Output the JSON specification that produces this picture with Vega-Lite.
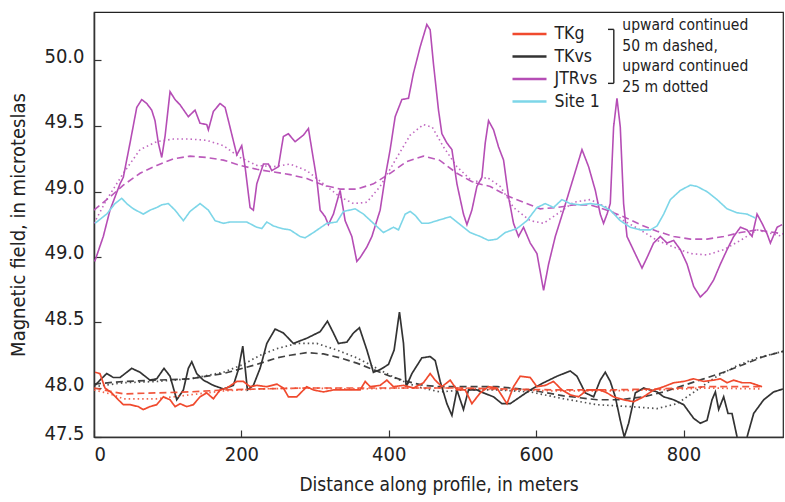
{
  "$schema": "https://vega.github.io/schema/vega-lite/v6.json",
  "width": 689,
  "height": 425,
  "autosize": {"type": "none"},
  "padding": {"left": 94, "top": 12, "right": 2, "bottom": 65},
  "config": {
    "view": {"stroke": "#222", "strokeWidth": 1.2},
    "font": "DejaVu Sans Condensed, Roboto, sans-serif",
    "axis": {
      "labelFont": "DejaVu Sans Condensed, Roboto, sans-serif",
      "titleFont": "DejaVu Sans Condensed, Roboto, sans-serif",
      "labelFontSize": 20,
      "titleFontSize": 19,
      "titleFontWeight": "normal",
      "labelColor": "#222",
      "titleColor": "#222",
      "domainColor": "#333",
      "domainWidth": 1.3,
      "tickColor": "#333",
      "tickWidth": 1.2,
      "tickSize": -7,
      "grid": false
    },
    "legend": {"labelFont": "DejaVu Sans Condensed, Roboto, sans-serif"},
    "text": {"font": "DejaVu Sans Condensed, Roboto, sans-serif"}
  },
  "datasets": {
    "profiles": [
      {"s":"JTRvs","k":"solid","d":1,"v":48.47},{"s":"JTRvs","k":"solid","d":12.6,"v":48.66},{"s":"JTRvs","k":"solid","d":21.7,"v":48.86},{"s":"JTRvs","k":"solid","d":35.3,"v":49.06},{"s":"JTRvs","k":"solid","d":39.8,"v":49.11},{"s":"JTRvs","k":"solid","d":48.9,"v":49.37},{"s":"JTRvs","k":"solid","d":58,"v":49.64},{"s":"JTRvs","k":"solid","d":64.8,"v":49.7},{"s":"JTRvs","k":"solid","d":71.6,"v":49.67},{"s":"JTRvs","k":"solid","d":78.3,"v":49.62},{"s":"JTRvs","k":"solid","d":82.8,"v":49.54},{"s":"JTRvs","k":"solid","d":87.3,"v":49.37},{"s":"JTRvs","k":"solid","d":91.9,"v":49.26},{"s":"JTRvs","k":"solid","d":96.4,"v":49.42},{"s":"JTRvs","k":"solid","d":103.2,"v":49.76},{"s":"JTRvs","k":"solid","d":110,"v":49.7},{"s":"JTRvs","k":"solid","d":116.8,"v":49.66},{"s":"JTRvs","k":"solid","d":128,"v":49.57},{"s":"JTRvs","k":"solid","d":137.1,"v":49.62},{"s":"JTRvs","k":"solid","d":143.9,"v":49.52},{"s":"JTRvs","k":"solid","d":153,"v":49.51},{"s":"JTRvs","k":"solid","d":155.2,"v":49.47},{"s":"JTRvs","k":"solid","d":162,"v":49.61},{"s":"JTRvs","k":"solid","d":171.1,"v":49.67},{"s":"JTRvs","k":"solid","d":177.9,"v":49.64},{"s":"JTRvs","k":"solid","d":182.4,"v":49.54},{"s":"JTRvs","k":"solid","d":193.8,"v":49.28},{"s":"JTRvs","k":"solid","d":200.5,"v":49.35},{"s":"JTRvs","k":"solid","d":205,"v":49.19},{"s":"JTRvs","k":"solid","d":211.8,"v":48.88},{"s":"JTRvs","k":"solid","d":216.3,"v":48.86},{"s":"JTRvs","k":"solid","d":220.9,"v":49.06},{"s":"JTRvs","k":"solid","d":229.9,"v":49.21},{"s":"JTRvs","k":"solid","d":236.7,"v":49.21},{"s":"JTRvs","k":"solid","d":241.3,"v":49.16},{"s":"JTRvs","k":"solid","d":250.2,"v":49.19},{"s":"JTRvs","k":"solid","d":257,"v":49.42},{"s":"JTRvs","k":"solid","d":263.8,"v":49.44},{"s":"JTRvs","k":"solid","d":272.9,"v":49.38},{"s":"JTRvs","k":"solid","d":284.2,"v":49.43},{"s":"JTRvs","k":"solid","d":291,"v":49.48},{"s":"JTRvs","k":"solid","d":295.6,"v":49.32},{"s":"JTRvs","k":"solid","d":302.4,"v":49.09},{"s":"JTRvs","k":"solid","d":306.9,"v":48.86},{"s":"JTRvs","k":"solid","d":313.7,"v":48.81},{"s":"JTRvs","k":"solid","d":318.1,"v":48.75},{"s":"JTRvs","k":"solid","d":324.9,"v":48.83},{"s":"JTRvs","k":"solid","d":334,"v":49.01},{"s":"JTRvs","k":"solid","d":340.8,"v":48.78},{"s":"JTRvs","k":"solid","d":349.9,"v":48.66},{"s":"JTRvs","k":"solid","d":356.7,"v":48.47},{"s":"JTRvs","k":"solid","d":361.2,"v":48.5},{"s":"JTRvs","k":"solid","d":370.3,"v":48.58},{"s":"JTRvs","k":"solid","d":377.1,"v":48.66},{"s":"JTRvs","k":"solid","d":388.3,"v":48.86},{"s":"JTRvs","k":"solid","d":395.1,"v":49.11},{"s":"JTRvs","k":"solid","d":401.9,"v":49.32},{"s":"JTRvs","k":"solid","d":408.7,"v":49.57},{"s":"JTRvs","k":"solid","d":417.8,"v":49.7},{"s":"JTRvs","k":"solid","d":426.8,"v":49.71},{"s":"JTRvs","k":"solid","d":433.5,"v":49.9},{"s":"JTRvs","k":"solid","d":442.6,"v":50.1},{"s":"JTRvs","k":"solid","d":451.7,"v":50.27},{"s":"JTRvs","k":"solid","d":456.2,"v":50.23},{"s":"JTRvs","k":"solid","d":460.7,"v":49.97},{"s":"JTRvs","k":"solid","d":467.5,"v":49.62},{"s":"JTRvs","k":"solid","d":472.1,"v":49.44},{"s":"JTRvs","k":"solid","d":478.9,"v":49.37},{"s":"JTRvs","k":"solid","d":485.7,"v":49.32},{"s":"JTRvs","k":"solid","d":492.5,"v":49.06},{"s":"JTRvs","k":"solid","d":501.4,"v":48.83},{"s":"JTRvs","k":"solid","d":506.1,"v":48.75},{"s":"JTRvs","k":"solid","d":512.8,"v":48.86},{"s":"JTRvs","k":"solid","d":519.6,"v":49.04},{"s":"JTRvs","k":"solid","d":526.4,"v":49.11},{"s":"JTRvs","k":"solid","d":530.9,"v":49.37},{"s":"JTRvs","k":"solid","d":535.4,"v":49.54},{"s":"JTRvs","k":"solid","d":542.2,"v":49.47},{"s":"JTRvs","k":"solid","d":549,"v":49.34},{"s":"JTRvs","k":"solid","d":555.8,"v":49.24},{"s":"JTRvs","k":"solid","d":562.6,"v":48.96},{"s":"JTRvs","k":"solid","d":569.3,"v":48.76},{"s":"JTRvs","k":"solid","d":576.1,"v":48.66},{"s":"JTRvs","k":"solid","d":582.9,"v":48.73},{"s":"JTRvs","k":"solid","d":592,"v":48.61},{"s":"JTRvs","k":"solid","d":601.1,"v":48.53},{"s":"JTRvs","k":"solid","d":610.1,"v":48.25},{"s":"JTRvs","k":"solid","d":616.9,"v":48.45},{"s":"JTRvs","k":"solid","d":626,"v":48.66},{"s":"JTRvs","k":"solid","d":637.2,"v":48.86},{"s":"JTRvs","k":"solid","d":650.8,"v":49.11},{"s":"JTRvs","k":"solid","d":662.2,"v":49.32},{"s":"JTRvs","k":"solid","d":671.2,"v":49.19},{"s":"JTRvs","k":"solid","d":680.3,"v":49.01},{"s":"JTRvs","k":"solid","d":687,"v":48.83},{"s":"JTRvs","k":"solid","d":691.5,"v":48.76},{"s":"JTRvs","k":"solid","d":696.2,"v":48.83},{"s":"JTRvs","k":"solid","d":700.6,"v":48.91},{"s":"JTRvs","k":"solid","d":705.1,"v":49.49},{"s":"JTRvs","k":"solid","d":709.7,"v":49.71},{"s":"JTRvs","k":"solid","d":714.2,"v":49.49},{"s":"JTRvs","k":"solid","d":718.7,"v":48.91},{"s":"JTRvs","k":"solid","d":723.3,"v":48.66},{"s":"JTRvs","k":"solid","d":730.1,"v":48.58},{"s":"JTRvs","k":"solid","d":736.9,"v":48.5},{"s":"JTRvs","k":"solid","d":743.7,"v":48.42},{"s":"JTRvs","k":"solid","d":750.5,"v":48.5},{"s":"JTRvs","k":"solid","d":759.4,"v":48.61},{"s":"JTRvs","k":"solid","d":768.5,"v":48.66},{"s":"JTRvs","k":"solid","d":777.6,"v":48.61},{"s":"JTRvs","k":"solid","d":786.6,"v":48.63},{"s":"JTRvs","k":"solid","d":795.7,"v":48.56},{"s":"JTRvs","k":"solid","d":804.8,"v":48.45},{"s":"JTRvs","k":"solid","d":813.8,"v":48.28},{"s":"JTRvs","k":"solid","d":822.8,"v":48.2},{"s":"JTRvs","k":"solid","d":831.9,"v":48.25},{"s":"JTRvs","k":"solid","d":840.9,"v":48.33},{"s":"JTRvs","k":"solid","d":850,"v":48.45},{"s":"JTRvs","k":"solid","d":859.1,"v":48.56},{"s":"JTRvs","k":"solid","d":868.1,"v":48.66},{"s":"JTRvs","k":"solid","d":877.2,"v":48.73},{"s":"JTRvs","k":"solid","d":886.2,"v":48.71},{"s":"JTRvs","k":"solid","d":893,"v":48.66},{"s":"JTRvs","k":"solid","d":899.8,"v":48.83},{"s":"JTRvs","k":"solid","d":906.6,"v":48.76},{"s":"JTRvs","k":"solid","d":913.4,"v":48.68},{"s":"JTRvs","k":"solid","d":917.9,"v":48.61},{"s":"JTRvs","k":"solid","d":927,"v":48.73},{"s":"JTRvs","k":"solid","d":933.7,"v":48.75},

      {"s":"JTRvs","k":"dashed","d":0,"v":48.86},{"s":"JTRvs","k":"dashed","d":21.7,"v":48.96},{"s":"JTRvs","k":"dashed","d":39.8,"v":49.05},{"s":"JTRvs","k":"dashed","d":62.5,"v":49.14},{"s":"JTRvs","k":"dashed","d":85.1,"v":49.2},{"s":"JTRvs","k":"dashed","d":107.7,"v":49.25},{"s":"JTRvs","k":"dashed","d":130.3,"v":49.27},{"s":"JTRvs","k":"dashed","d":153,"v":49.26},{"s":"JTRvs","k":"dashed","d":175.6,"v":49.24},{"s":"JTRvs","k":"dashed","d":198.2,"v":49.2},{"s":"JTRvs","k":"dashed","d":220.9,"v":49.17},{"s":"JTRvs","k":"dashed","d":243.5,"v":49.15},{"s":"JTRvs","k":"dashed","d":266.1,"v":49.13},{"s":"JTRvs","k":"dashed","d":288.8,"v":49.1},{"s":"JTRvs","k":"dashed","d":311.4,"v":49.05},{"s":"JTRvs","k":"dashed","d":334,"v":49.02},{"s":"JTRvs","k":"dashed","d":356.7,"v":49.02},{"s":"JTRvs","k":"dashed","d":379.2,"v":49.06},{"s":"JTRvs","k":"dashed","d":401.9,"v":49.14},{"s":"JTRvs","k":"dashed","d":424.6,"v":49.23},{"s":"JTRvs","k":"dashed","d":447.1,"v":49.27},{"s":"JTRvs","k":"dashed","d":468.9,"v":49.24},{"s":"JTRvs","k":"dashed","d":492.5,"v":49.14},{"s":"JTRvs","k":"dashed","d":515,"v":49.07},{"s":"JTRvs","k":"dashed","d":537.7,"v":49.04},{"s":"JTRvs","k":"dashed","d":560.4,"v":48.97},{"s":"JTRvs","k":"dashed","d":582.9,"v":48.92},{"s":"JTRvs","k":"dashed","d":605.6,"v":48.87},{"s":"JTRvs","k":"dashed","d":628.3,"v":48.88},{"s":"JTRvs","k":"dashed","d":650.8,"v":48.9},{"s":"JTRvs","k":"dashed","d":673.5,"v":48.9},{"s":"JTRvs","k":"dashed","d":696.2,"v":48.86},{"s":"JTRvs","k":"dashed","d":718.7,"v":48.81},{"s":"JTRvs","k":"dashed","d":741.4,"v":48.75},{"s":"JTRvs","k":"dashed","d":764.1,"v":48.7},{"s":"JTRvs","k":"dashed","d":786.6,"v":48.66},{"s":"JTRvs","k":"dashed","d":809.3,"v":48.64},{"s":"JTRvs","k":"dashed","d":831.9,"v":48.64},{"s":"JTRvs","k":"dashed","d":854.5,"v":48.66},{"s":"JTRvs","k":"dashed","d":877.2,"v":48.69},{"s":"JTRvs","k":"dashed","d":899.8,"v":48.71},{"s":"JTRvs","k":"dashed","d":935,"v":48.68},

      {"s":"JTRvs","k":"dotted","d":0,"v":48.76},{"s":"JTRvs","k":"dotted","d":17.2,"v":48.94},{"s":"JTRvs","k":"dotted","d":39.8,"v":49.14},{"s":"JTRvs","k":"dotted","d":62.5,"v":49.32},{"s":"JTRvs","k":"dotted","d":85.1,"v":49.38},{"s":"JTRvs","k":"dotted","d":107.7,"v":49.4},{"s":"JTRvs","k":"dotted","d":130.3,"v":49.4},{"s":"JTRvs","k":"dotted","d":153,"v":49.39},{"s":"JTRvs","k":"dotted","d":175.6,"v":49.35},{"s":"JTRvs","k":"dotted","d":198.2,"v":49.26},{"s":"JTRvs","k":"dotted","d":220.9,"v":49.2},{"s":"JTRvs","k":"dotted","d":243.5,"v":49.19},{"s":"JTRvs","k":"dotted","d":266.1,"v":49.21},{"s":"JTRvs","k":"dotted","d":288.8,"v":49.16},{"s":"JTRvs","k":"dotted","d":311.4,"v":49.06},{"s":"JTRvs","k":"dotted","d":334,"v":48.96},{"s":"JTRvs","k":"dotted","d":352.1,"v":48.91},{"s":"JTRvs","k":"dotted","d":370.3,"v":48.92},{"s":"JTRvs","k":"dotted","d":388.3,"v":49.04},{"s":"JTRvs","k":"dotted","d":411,"v":49.26},{"s":"JTRvs","k":"dotted","d":429.1,"v":49.43},{"s":"JTRvs","k":"dotted","d":447.1,"v":49.51},{"s":"JTRvs","k":"dotted","d":459,"v":49.49},{"s":"JTRvs","k":"dotted","d":474.3,"v":49.34},{"s":"JTRvs","k":"dotted","d":492.5,"v":49.19},{"s":"JTRvs","k":"dotted","d":515,"v":49.07},{"s":"JTRvs","k":"dotted","d":533.2,"v":49.11},{"s":"JTRvs","k":"dotted","d":551.3,"v":49.04},{"s":"JTRvs","k":"dotted","d":569.3,"v":48.88},{"s":"JTRvs","k":"dotted","d":592,"v":48.78},{"s":"JTRvs","k":"dotted","d":610.1,"v":48.76},{"s":"JTRvs","k":"dotted","d":628.3,"v":48.83},{"s":"JTRvs","k":"dotted","d":650.8,"v":48.92},{"s":"JTRvs","k":"dotted","d":673.5,"v":48.94},{"s":"JTRvs","k":"dotted","d":696.2,"v":48.88},{"s":"JTRvs","k":"dotted","d":718.7,"v":48.78},{"s":"JTRvs","k":"dotted","d":741.4,"v":48.71},{"s":"JTRvs","k":"dotted","d":764.1,"v":48.63},{"s":"JTRvs","k":"dotted","d":786.6,"v":48.58},{"s":"JTRvs","k":"dotted","d":809.3,"v":48.53},{"s":"JTRvs","k":"dotted","d":831.9,"v":48.52},{"s":"JTRvs","k":"dotted","d":854.5,"v":48.56},{"s":"JTRvs","k":"dotted","d":877.2,"v":48.63},{"s":"JTRvs","k":"dotted","d":899.8,"v":48.71},{"s":"JTRvs","k":"dotted","d":935,"v":48.66},

      {"s":"Site 1","k":"solid","d":1.4,"v":48.76},{"s":"Site 1","k":"solid","d":17.2,"v":48.83},{"s":"Site 1","k":"solid","d":28.5,"v":48.91},{"s":"Site 1","k":"solid","d":37.6,"v":48.95},{"s":"Site 1","k":"solid","d":44.4,"v":48.91},{"s":"Site 1","k":"solid","d":53.4,"v":48.87},{"s":"Site 1","k":"solid","d":66.9,"v":48.83},{"s":"Site 1","k":"solid","d":76,"v":48.86},{"s":"Site 1","k":"solid","d":85.1,"v":48.88},{"s":"Site 1","k":"solid","d":91.9,"v":48.9},{"s":"Site 1","k":"solid","d":100.9,"v":48.91},{"s":"Site 1","k":"solid","d":110,"v":48.86},{"s":"Site 1","k":"solid","d":121.3,"v":48.78},{"s":"Site 1","k":"solid","d":130.3,"v":48.85},{"s":"Site 1","k":"solid","d":143.9,"v":48.91},{"s":"Site 1","k":"solid","d":155.2,"v":48.86},{"s":"Site 1","k":"solid","d":164.3,"v":48.78},{"s":"Site 1","k":"solid","d":175.6,"v":48.76},{"s":"Site 1","k":"solid","d":184.7,"v":48.77},{"s":"Site 1","k":"solid","d":198.2,"v":48.77},{"s":"Site 1","k":"solid","d":207.3,"v":48.77},{"s":"Site 1","k":"solid","d":220.9,"v":48.73},{"s":"Site 1","k":"solid","d":227.7,"v":48.72},{"s":"Site 1","k":"solid","d":234.5,"v":48.77},{"s":"Site 1","k":"solid","d":243.5,"v":48.74},{"s":"Site 1","k":"solid","d":254.9,"v":48.72},{"s":"Site 1","k":"solid","d":266.1,"v":48.71},{"s":"Site 1","k":"solid","d":279.7,"v":48.66},{"s":"Site 1","k":"solid","d":286.5,"v":48.65},{"s":"Site 1","k":"solid","d":297.8,"v":48.69},{"s":"Site 1","k":"solid","d":316,"v":48.76},{"s":"Site 1","k":"solid","d":329.5,"v":48.77},{"s":"Site 1","k":"solid","d":338.5,"v":48.85},{"s":"Site 1","k":"solid","d":354.4,"v":48.87},{"s":"Site 1","k":"solid","d":365.7,"v":48.83},{"s":"Site 1","k":"solid","d":379.2,"v":48.76},{"s":"Site 1","k":"solid","d":392.8,"v":48.69},{"s":"Site 1","k":"solid","d":399.6,"v":48.71},{"s":"Site 1","k":"solid","d":406.4,"v":48.73},{"s":"Site 1","k":"solid","d":413.2,"v":48.71},{"s":"Site 1","k":"solid","d":422.3,"v":48.83},{"s":"Site 1","k":"solid","d":429.1,"v":48.85},{"s":"Site 1","k":"solid","d":435.9,"v":48.82},{"s":"Site 1","k":"solid","d":444.9,"v":48.76},{"s":"Site 1","k":"solid","d":453.9,"v":48.76},{"s":"Site 1","k":"solid","d":465.3,"v":48.78},{"s":"Site 1","k":"solid","d":483.4,"v":48.81},{"s":"Site 1","k":"solid","d":497,"v":48.75},{"s":"Site 1","k":"solid","d":510.5,"v":48.69},{"s":"Site 1","k":"solid","d":524.1,"v":48.66},{"s":"Site 1","k":"solid","d":535.4,"v":48.63},{"s":"Site 1","k":"solid","d":546.8,"v":48.64},{"s":"Site 1","k":"solid","d":558.1,"v":48.69},{"s":"Site 1","k":"solid","d":573.9,"v":48.72},{"s":"Site 1","k":"solid","d":587.5,"v":48.78},{"s":"Site 1","k":"solid","d":601.1,"v":48.88},{"s":"Site 1","k":"solid","d":612.4,"v":48.91},{"s":"Site 1","k":"solid","d":623.6,"v":48.88},{"s":"Site 1","k":"solid","d":635,"v":48.94},{"s":"Site 1","k":"solid","d":646.3,"v":48.91},{"s":"Site 1","k":"solid","d":659.9,"v":48.9},{"s":"Site 1","k":"solid","d":673.5,"v":48.91},{"s":"Site 1","k":"solid","d":687,"v":48.9},{"s":"Site 1","k":"solid","d":700.6,"v":48.86},{"s":"Site 1","k":"solid","d":714.2,"v":48.78},{"s":"Site 1","k":"solid","d":727.8,"v":48.73},{"s":"Site 1","k":"solid","d":741.4,"v":48.71},{"s":"Site 1","k":"solid","d":755,"v":48.71},{"s":"Site 1","k":"solid","d":764.1,"v":48.74},{"s":"Site 1","k":"solid","d":773.1,"v":48.83},{"s":"Site 1","k":"solid","d":782.1,"v":48.94},{"s":"Site 1","k":"solid","d":795.7,"v":49.01},{"s":"Site 1","k":"solid","d":809.3,"v":49.05},{"s":"Site 1","k":"solid","d":818.4,"v":49.04},{"s":"Site 1","k":"solid","d":832,"v":49.0},{"s":"Site 1","k":"solid","d":845.5,"v":48.94},{"s":"Site 1","k":"solid","d":859.1,"v":48.87},{"s":"Site 1","k":"solid","d":872.7,"v":48.84},{"s":"Site 1","k":"solid","d":886.2,"v":48.83},{"s":"Site 1","k":"solid","d":897.5,"v":48.8},

      {"s":"TKvs","k":"solid","d":1.4,"v":48.02},{"s":"TKvs","k":"solid","d":8.1,"v":48.06},{"s":"TKvs","k":"solid","d":17.2,"v":48.11},{"s":"TKvs","k":"solid","d":26.2,"v":48.08},{"s":"TKvs","k":"solid","d":35.3,"v":48.08},{"s":"TKvs","k":"solid","d":51.2,"v":48.15},{"s":"TKvs","k":"solid","d":62.5,"v":48.12},{"s":"TKvs","k":"solid","d":76,"v":48.06},{"s":"TKvs","k":"solid","d":85.1,"v":48.07},{"s":"TKvs","k":"solid","d":95,"v":48.15},{"s":"TKvs","k":"solid","d":103.2,"v":48.09},{"s":"TKvs","k":"solid","d":112.3,"v":47.88},{"s":"TKvs","k":"solid","d":121.3,"v":47.98},{"s":"TKvs","k":"solid","d":128,"v":48.15},{"s":"TKvs","k":"solid","d":132.7,"v":48.2},{"s":"TKvs","k":"solid","d":139.4,"v":48.11},{"s":"TKvs","k":"solid","d":148.4,"v":48.06},{"s":"TKvs","k":"solid","d":162,"v":48.02},{"s":"TKvs","k":"solid","d":175.6,"v":47.99},{"s":"TKvs","k":"solid","d":189.1,"v":48.02},{"s":"TKvs","k":"solid","d":195.9,"v":48.14},{"s":"TKvs","k":"solid","d":201.9,"v":48.32},{"s":"TKvs","k":"solid","d":205,"v":48.16},{"s":"TKvs","k":"solid","d":208.2,"v":47.98},{"s":"TKvs","k":"solid","d":216.3,"v":48.02},{"s":"TKvs","k":"solid","d":225.4,"v":48.15},{"s":"TKvs","k":"solid","d":234.5,"v":48.34},{"s":"TKvs","k":"solid","d":245.8,"v":48.45},{"s":"TKvs","k":"solid","d":257,"v":48.42},{"s":"TKvs","k":"solid","d":270.6,"v":48.34},{"s":"TKvs","k":"solid","d":288.8,"v":48.38},{"s":"TKvs","k":"solid","d":306.9,"v":48.43},{"s":"TKvs","k":"solid","d":316.8,"v":48.51},{"s":"TKvs","k":"solid","d":324.9,"v":48.42},{"s":"TKvs","k":"solid","d":331.7,"v":48.34},{"s":"TKvs","k":"solid","d":343.1,"v":48.35},{"s":"TKvs","k":"solid","d":352.1,"v":48.42},{"s":"TKvs","k":"solid","d":360.2,"v":48.46},{"s":"TKvs","k":"solid","d":370.3,"v":48.29},{"s":"TKvs","k":"solid","d":379.2,"v":48.12},{"s":"TKvs","k":"solid","d":388.3,"v":48.14},{"s":"TKvs","k":"solid","d":399.6,"v":48.18},{"s":"TKvs","k":"solid","d":407.3,"v":48.29},{"s":"TKvs","k":"solid","d":414.5,"v":48.58},{"s":"TKvs","k":"solid","d":420,"v":48.34},{"s":"TKvs","k":"solid","d":423.6,"v":48.01},{"s":"TKvs","k":"solid","d":431.4,"v":48.11},{"s":"TKvs","k":"solid","d":444.9,"v":48.23},{"s":"TKvs","k":"solid","d":456.2,"v":48.24},{"s":"TKvs","k":"solid","d":463,"v":48.21},{"s":"TKvs","k":"solid","d":469.8,"v":48.05},{"s":"TKvs","k":"solid","d":478.9,"v":47.84},{"s":"TKvs","k":"solid","d":485.7,"v":47.72},{"s":"TKvs","k":"solid","d":492.5,"v":47.98},{"s":"TKvs","k":"solid","d":501.4,"v":47.78},{"s":"TKvs","k":"solid","d":508.2,"v":47.98},{"s":"TKvs","k":"solid","d":519.6,"v":47.98},{"s":"TKvs","k":"solid","d":528.6,"v":47.95},{"s":"TKvs","k":"solid","d":542.2,"v":47.91},{"s":"TKvs","k":"solid","d":553.6,"v":47.84},{"s":"TKvs","k":"solid","d":564.8,"v":47.84},{"s":"TKvs","k":"solid","d":578.4,"v":47.91},{"s":"TKvs","k":"solid","d":592,"v":47.98},{"s":"TKvs","k":"solid","d":610.1,"v":48.04},{"s":"TKvs","k":"solid","d":628.3,"v":48.09},{"s":"TKvs","k":"solid","d":646.3,"v":48.13},{"s":"TKvs","k":"solid","d":655.4,"v":48.09},{"s":"TKvs","k":"solid","d":666.7,"v":47.95},{"s":"TKvs","k":"solid","d":678,"v":47.91},{"s":"TKvs","k":"solid","d":687,"v":48.06},{"s":"TKvs","k":"solid","d":693.8,"v":48.12},{"s":"TKvs","k":"solid","d":700.6,"v":48.05},{"s":"TKvs","k":"solid","d":707.4,"v":47.91},{"s":"TKvs","k":"solid","d":714.2,"v":47.67},{"s":"TKvs","k":"solid","d":719.6,"v":47.5},{"s":"TKvs","k":"solid","d":725.5,"v":47.64},{"s":"TKvs","k":"solid","d":734.6,"v":47.95},{"s":"TKvs","k":"solid","d":745.8,"v":48.0},{"s":"TKvs","k":"solid","d":755,"v":47.98},{"s":"TKvs","k":"solid","d":764.1,"v":47.96},{"s":"TKvs","k":"solid","d":773.1,"v":47.91},{"s":"TKvs","k":"solid","d":786.6,"v":47.88},{"s":"TKvs","k":"solid","d":800.2,"v":47.83},{"s":"TKvs","k":"solid","d":813.8,"v":47.69},{"s":"TKvs","k":"solid","d":822.8,"v":47.64},{"s":"TKvs","k":"solid","d":831.9,"v":47.67},{"s":"TKvs","k":"solid","d":838.7,"v":47.88},{"s":"TKvs","k":"solid","d":843.2,"v":47.96},{"s":"TKvs","k":"solid","d":847.7,"v":47.78},{"s":"TKvs","k":"solid","d":854.5,"v":47.91},{"s":"TKvs","k":"solid","d":860.4,"v":47.74},{"s":"TKvs","k":"solid","d":865.8,"v":47.74},{"s":"TKvs","k":"solid","d":872.7,"v":47.5},{"s":"TKvs","k":"solid","d":879.5,"v":47.39},{"s":"TKvs","k":"solid","d":886.2,"v":47.5},{"s":"TKvs","k":"solid","d":895.2,"v":47.74},{"s":"TKvs","k":"solid","d":908.8,"v":47.88},{"s":"TKvs","k":"solid","d":922.3,"v":47.96},{"s":"TKvs","k":"solid","d":935,"v":47.99},

      {"s":"TKvs","k":"dashed","d":0,"v":48.03},{"s":"TKvs","k":"dashed","d":39.8,"v":48.05},{"s":"TKvs","k":"dashed","d":85.1,"v":48.06},{"s":"TKvs","k":"dashed","d":130.3,"v":48.07},{"s":"TKvs","k":"dashed","d":175.6,"v":48.11},{"s":"TKvs","k":"dashed","d":220.9,"v":48.18},{"s":"TKvs","k":"dashed","d":248.1,"v":48.23},{"s":"TKvs","k":"dashed","d":266.1,"v":48.25},{"s":"TKvs","k":"dashed","d":288.8,"v":48.27},{"s":"TKvs","k":"dashed","d":311.4,"v":48.26},{"s":"TKvs","k":"dashed","d":334,"v":48.23},{"s":"TKvs","k":"dashed","d":356.7,"v":48.19},{"s":"TKvs","k":"dashed","d":379.2,"v":48.14},{"s":"TKvs","k":"dashed","d":401.9,"v":48.09},{"s":"TKvs","k":"dashed","d":424.6,"v":48.05},{"s":"TKvs","k":"dashed","d":447.1,"v":48.02},{"s":"TKvs","k":"dashed","d":468.9,"v":48.01},{"s":"TKvs","k":"dashed","d":501.4,"v":48.01},{"s":"TKvs","k":"dashed","d":546.8,"v":48.01},{"s":"TKvs","k":"dashed","d":592,"v":47.98},{"s":"TKvs","k":"dashed","d":637.2,"v":47.92},{"s":"TKvs","k":"dashed","d":682.6,"v":47.88},{"s":"TKvs","k":"dashed","d":714.2,"v":47.88},{"s":"TKvs","k":"dashed","d":745.8,"v":47.91},{"s":"TKvs","k":"dashed","d":773.1,"v":47.96},{"s":"TKvs","k":"dashed","d":800.2,"v":48.02},{"s":"TKvs","k":"dashed","d":827.3,"v":48.07},{"s":"TKvs","k":"dashed","d":854.5,"v":48.12},{"s":"TKvs","k":"dashed","d":881.6,"v":48.18},{"s":"TKvs","k":"dashed","d":908.8,"v":48.24},{"s":"TKvs","k":"dashed","d":935,"v":48.28},

      {"s":"TKvs","k":"dotted","d":0,"v":48.01},{"s":"TKvs","k":"dotted","d":39.8,"v":48.04},{"s":"TKvs","k":"dotted","d":85.1,"v":48.05},{"s":"TKvs","k":"dotted","d":130.3,"v":48.07},{"s":"TKvs","k":"dotted","d":175.6,"v":48.12},{"s":"TKvs","k":"dotted","d":202.7,"v":48.18},{"s":"TKvs","k":"dotted","d":225.4,"v":48.25},{"s":"TKvs","k":"dotted","d":248.1,"v":48.3},{"s":"TKvs","k":"dotted","d":275.2,"v":48.34},{"s":"TKvs","k":"dotted","d":302.4,"v":48.34},{"s":"TKvs","k":"dotted","d":329.5,"v":48.29},{"s":"TKvs","k":"dotted","d":356.7,"v":48.23},{"s":"TKvs","k":"dotted","d":383.9,"v":48.15},{"s":"TKvs","k":"dotted","d":411,"v":48.07},{"s":"TKvs","k":"dotted","d":438.2,"v":48.01},{"s":"TKvs","k":"dotted","d":468.9,"v":47.96},{"s":"TKvs","k":"dotted","d":501.4,"v":47.98},{"s":"TKvs","k":"dotted","d":546.8,"v":47.98},{"s":"TKvs","k":"dotted","d":592,"v":47.96},{"s":"TKvs","k":"dotted","d":637.2,"v":47.89},{"s":"TKvs","k":"dotted","d":682.6,"v":47.83},{"s":"TKvs","k":"dotted","d":727.8,"v":47.81},{"s":"TKvs","k":"dotted","d":764.1,"v":47.79},{"s":"TKvs","k":"dotted","d":791.3,"v":47.84},{"s":"TKvs","k":"dotted","d":818.4,"v":47.98},{"s":"TKvs","k":"dotted","d":845.5,"v":48.09},{"s":"TKvs","k":"dotted","d":872.7,"v":48.17},{"s":"TKvs","k":"dotted","d":899.8,"v":48.23},{"s":"TKvs","k":"dotted","d":935,"v":48.28},

      {"s":"TKg","k":"solid","d":1.4,"v":48.12},{"s":"TKg","k":"solid","d":8.1,"v":48.11},{"s":"TKg","k":"solid","d":14.9,"v":48.0},{"s":"TKg","k":"solid","d":24,"v":47.95},{"s":"TKg","k":"solid","d":33,"v":47.88},{"s":"TKg","k":"solid","d":39.8,"v":47.83},{"s":"TKg","k":"solid","d":48.9,"v":47.83},{"s":"TKg","k":"solid","d":60.2,"v":47.81},{"s":"TKg","k":"solid","d":66.9,"v":47.78},{"s":"TKg","k":"solid","d":76,"v":47.81},{"s":"TKg","k":"solid","d":85.1,"v":47.83},{"s":"TKg","k":"solid","d":94.1,"v":47.91},{"s":"TKg","k":"solid","d":103.2,"v":47.88},{"s":"TKg","k":"solid","d":110,"v":47.81},{"s":"TKg","k":"solid","d":116.8,"v":47.84},{"s":"TKg","k":"solid","d":125.9,"v":47.81},{"s":"TKg","k":"solid","d":134.8,"v":47.83},{"s":"TKg","k":"solid","d":143.9,"v":47.91},{"s":"TKg","k":"solid","d":153,"v":47.95},{"s":"TKg","k":"solid","d":162,"v":47.89},{"s":"TKg","k":"solid","d":171.1,"v":47.98},{"s":"TKg","k":"solid","d":180.2,"v":48.0},{"s":"TKg","k":"solid","d":193.8,"v":48.05},{"s":"TKg","k":"solid","d":202.7,"v":48.05},{"s":"TKg","k":"solid","d":211.8,"v":48.01},{"s":"TKg","k":"solid","d":220.9,"v":48.02},{"s":"TKg","k":"solid","d":234.5,"v":48.01},{"s":"TKg","k":"solid","d":248.1,"v":48.03},{"s":"TKg","k":"solid","d":257,"v":48.0},{"s":"TKg","k":"solid","d":263.8,"v":47.91},{"s":"TKg","k":"solid","d":275.2,"v":47.91},{"s":"TKg","k":"solid","d":288.8,"v":48.01},{"s":"TKg","k":"solid","d":297.8,"v":47.98},{"s":"TKg","k":"solid","d":311.4,"v":47.96},{"s":"TKg","k":"solid","d":324.9,"v":47.98},{"s":"TKg","k":"solid","d":338.5,"v":47.98},{"s":"TKg","k":"solid","d":352.1,"v":47.98},{"s":"TKg","k":"solid","d":361.2,"v":47.98},{"s":"TKg","k":"solid","d":368,"v":48.05},{"s":"TKg","k":"solid","d":374.8,"v":48.01},{"s":"TKg","k":"solid","d":388.3,"v":48.02},{"s":"TKg","k":"solid","d":397.4,"v":48.06},{"s":"TKg","k":"solid","d":406.4,"v":48.01},{"s":"TKg","k":"solid","d":420,"v":48.02},{"s":"TKg","k":"solid","d":433.5,"v":48.0},{"s":"TKg","k":"solid","d":447.1,"v":48.04},{"s":"TKg","k":"solid","d":456.2,"v":48.11},{"s":"TKg","k":"solid","d":463,"v":48.06},{"s":"TKg","k":"solid","d":472.1,"v":48.01},{"s":"TKg","k":"solid","d":483.4,"v":48.06},{"s":"TKg","k":"solid","d":492.5,"v":47.98},{"s":"TKg","k":"solid","d":503.8,"v":47.98},{"s":"TKg","k":"solid","d":512.8,"v":47.84},{"s":"TKg","k":"solid","d":524.1,"v":47.95},{"s":"TKg","k":"solid","d":535.4,"v":48.01},{"s":"TKg","k":"solid","d":546.8,"v":48.0},{"s":"TKg","k":"solid","d":560.4,"v":47.84},{"s":"TKg","k":"solid","d":569.3,"v":48.01},{"s":"TKg","k":"solid","d":578.4,"v":48.09},{"s":"TKg","k":"solid","d":592,"v":48.08},{"s":"TKg","k":"solid","d":601.1,"v":48.01},{"s":"TKg","k":"solid","d":612.4,"v":48.02},{"s":"TKg","k":"solid","d":623.6,"v":48.05},{"s":"TKg","k":"solid","d":635,"v":47.98},{"s":"TKg","k":"solid","d":646.3,"v":47.93},{"s":"TKg","k":"solid","d":657.6,"v":47.91},{"s":"TKg","k":"solid","d":669,"v":47.98},{"s":"TKg","k":"solid","d":678,"v":47.98},{"s":"TKg","k":"solid","d":687,"v":47.98},{"s":"TKg","k":"solid","d":696.2,"v":47.95},{"s":"TKg","k":"solid","d":705.1,"v":47.91},{"s":"TKg","k":"solid","d":718.7,"v":47.88},{"s":"TKg","k":"solid","d":732.3,"v":47.86},{"s":"TKg","k":"solid","d":745.8,"v":47.91},{"s":"TKg","k":"solid","d":759.4,"v":47.98},{"s":"TKg","k":"solid","d":773.1,"v":48.01},{"s":"TKg","k":"solid","d":786.6,"v":48.04},{"s":"TKg","k":"solid","d":800.2,"v":48.05},{"s":"TKg","k":"solid","d":813.8,"v":48.07},{"s":"TKg","k":"solid","d":827.3,"v":48.05},{"s":"TKg","k":"solid","d":840.9,"v":48.06},{"s":"TKg","k":"solid","d":850,"v":48.07},{"s":"TKg","k":"solid","d":859.1,"v":48.04},{"s":"TKg","k":"solid","d":868.1,"v":48.06},{"s":"TKg","k":"solid","d":879.5,"v":48.04},{"s":"TKg","k":"solid","d":890.7,"v":48.04},{"s":"TKg","k":"solid","d":906.6,"v":48.01},

      {"s":"TKg","k":"dashed","d":0,"v":48.0},{"s":"TKg","k":"dashed","d":40,"v":47.94},{"s":"TKg","k":"dashed","d":85,"v":47.95},{"s":"TKg","k":"dashed","d":130,"v":47.96},{"s":"TKg","k":"dashed","d":176,"v":47.98},{"s":"TKg","k":"dashed","d":221,"v":47.99},{"s":"TKg","k":"dashed","d":289,"v":48.0},{"s":"TKg","k":"dashed","d":357,"v":48.0},{"s":"TKg","k":"dashed","d":425,"v":48.0},{"s":"TKg","k":"dashed","d":492,"v":48.0},{"s":"TKg","k":"dashed","d":560,"v":47.99},{"s":"TKg","k":"dashed","d":628,"v":47.98},{"s":"TKg","k":"dashed","d":696,"v":47.98},{"s":"TKg","k":"dashed","d":764,"v":47.99},{"s":"TKg","k":"dashed","d":832,"v":48.01},{"s":"TKg","k":"dashed","d":907,"v":48.01},

      {"s":"TKg","k":"dotted","d":0,"v":47.98},{"s":"TKg","k":"dotted","d":22,"v":47.94},{"s":"TKg","k":"dotted","d":40,"v":47.89},{"s":"TKg","k":"dotted","d":85,"v":47.89},{"s":"TKg","k":"dotted","d":130,"v":47.93},{"s":"TKg","k":"dotted","d":176,"v":47.97},{"s":"TKg","k":"dotted","d":221,"v":47.99},{"s":"TKg","k":"dotted","d":289,"v":48.0},{"s":"TKg","k":"dotted","d":357,"v":47.99},{"s":"TKg","k":"dotted","d":425,"v":48.0},{"s":"TKg","k":"dotted","d":492,"v":48.0},{"s":"TKg","k":"dotted","d":560,"v":47.98},{"s":"TKg","k":"dotted","d":628,"v":47.97},{"s":"TKg","k":"dotted","d":696,"v":47.97},{"s":"TKg","k":"dotted","d":764,"v":47.98},{"s":"TKg","k":"dotted","d":832,"v":48.0},{"s":"TKg","k":"dotted","d":907,"v":47.99}
    ]
  },
  "data": {"name": "profiles"},
  "layer": [
    {
      "transform": [{"filter": "datum.s === 'TKg' || datum.s === 'TKvs'"}],
      "mark": {"type": "line", "strokeWidth": 1.7, "clip": true},
      "encoding": {
        "x": {
          "field": "d",
          "type": "quantitative",
          "scale": {"domain": [0, 935], "nice": false, "zero": false},
          "axis": {"values": [0, 200, 400, 600, 800], "labelPadding": 14, "titlePadding": 11, "title": "Distance along profile, in meters"}
        },
        "y": {
          "field": "v",
          "type": "quantitative",
          "scale": {"domain": [47.5, 48.0, 50.87], "range": [425, 376, 0], "nice": false, "zero": false},
          "axis": {"values": [47.5, 48.0, 48.5, 49.0], "format": ".1f", "labelPadding": 17, "labelOffset": -4, "titlePadding": 15, "titleFontSize": 20, "title": "Magnetic field, in microteslas"}
        },
        "color": {
          "field": "s",
          "type": "nominal",
          "scale": {"domain": ["TKg", "TKvs", "JTRvs", "Site 1"], "range": ["#f04a2e", "#333333", "#b54db5", "#7dd6e8"]},
          "legend": {"orient": "none", "legendX": 425.5, "legendY": 12, "title": null, "symbolType": "M-2,0H2", "symbolSize": 289, "symbolStrokeWidth": 2.5, "labelFontSize": 17.5, "labelColor": "#222", "labelOffset": 15, "rowPadding": 3.5, "padding": 0}
        },
        "strokeDash": {"field": "k", "type": "nominal", "scale": {"domain": ["solid", "dashed", "dotted"], "range": [[1, 0], [7, 4], [1.5, 3]]}, "legend": null},
        "opacity": {"field": "k", "type": "nominal", "scale": {"domain": ["solid", "dashed", "dotted"], "range": [1, 0.85, 0.7]}, "legend": null}
      }
    },
    {
      "transform": [{"filter": "datum.s === 'JTRvs' || datum.s === 'Site 1'"}],
      "mark": {"type": "line", "strokeWidth": 1.6, "clip": true},
      "encoding": {
        "x": {"field": "d", "type": "quantitative"},
        "y": {
          "field": "v",
          "type": "quantitative",
          "scale": {"domain": [47.137, 50.365], "nice": false, "zero": false},
          "axis": {"orient": "left", "values": [49.0, 49.5, 50.0], "format": ".1f", "labelPadding": 17, "labelOffset": -4, "title": null}
        },
        "color": {
          "field": "s",
          "type": "nominal",
          "scale": {"domain": ["TKg", "TKvs", "JTRvs", "Site 1"], "range": ["#f04a2e", "#333333", "#b54db5", "#7dd6e8"]},
          "legend": {"orient": "none", "legendX": 425.5, "legendY": 12, "title": null, "symbolType": "M-2,0H2", "symbolSize": 289, "symbolStrokeWidth": 2.5, "labelFontSize": 17.5, "labelColor": "#222", "labelOffset": 15, "rowPadding": 3.5, "padding": 0}
        },
        "strokeDash": {"field": "k", "type": "nominal", "scale": {"domain": ["solid", "dashed", "dotted"], "range": [[1, 0], [7, 4], [1.5, 3]]}, "legend": null},
        "opacity": {"field": "k", "type": "nominal", "scale": {"domain": ["solid", "dashed", "dotted"], "range": [1, 0.85, 0.7]}, "legend": null}
      }
    },
    {
      "data": {"values": [{"note": "bracket"}]},
      "encoding": {
        "y": {"datum": 50.233, "type": "quantitative", "scale": {"domain": [47.137, 50.365], "nice": false, "zero": false}, "axis": null}
      },
      "layer": [
        {
          "mark": {"type": "rule", "color": "#222", "strokeWidth": 1.4},
          "encoding": {"x": {"datum": 705.4, "type": "quantitative"}, "y2": {"datum": 49.823}}
        },
        {
          "mark": {"type": "rule", "color": "#222", "strokeWidth": 1.4},
          "encoding": {"x": {"datum": 697.5, "type": "quantitative"}, "x2": {"datum": 705.4}}
        },
        {
          "mark": {"type": "rule", "color": "#222", "strokeWidth": 1.4},
          "encoding": {"x": {"datum": 697.5, "type": "quantitative"}, "x2": {"datum": 705.4}, "y": {"datum": 49.823, "type": "quantitative"}}
        },
        {
          "mark": {"type": "text", "align": "left", "baseline": "top", "fontSize": 15.5, "lineHeight": 20.7, "color": "#222", "font": "DejaVu Sans Condensed, Roboto, sans-serif"},
          "encoding": {
            "x": {"datum": 717, "type": "quantitative"},
            "y": {"datum": 50.32, "type": "quantitative"},
            "text": {"value": ["upward continued", "50 m dashed,", "upward continued", "25 m dotted"]}
          }
        }
      ]
    }
  ],
  "resolve": {"scale": {"y": "independent"}}
}
